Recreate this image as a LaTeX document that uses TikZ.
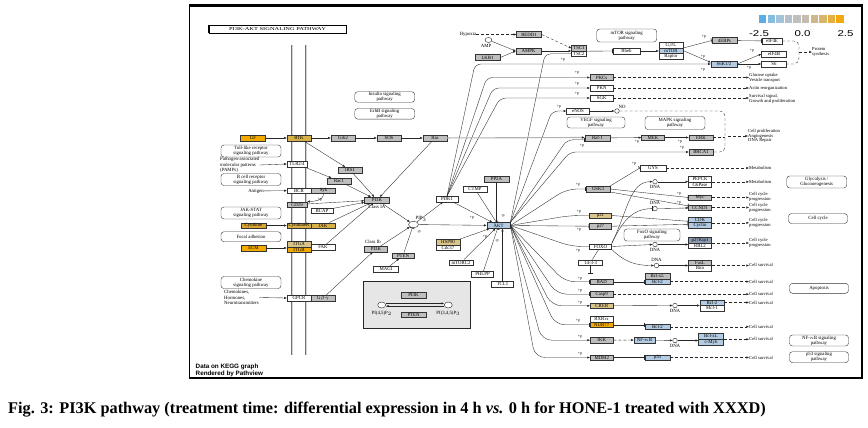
\documentclass[tikz,border=0pt]{standalone}
\usepackage{fontspec}
\setmainfont{Liberation Serif}
\setsansfont{Liberation Sans}
\usepackage{graphicx}
\usetikzlibrary{arrows.meta,shapes.geometric,calc}
\definecolor{kg}{HTML}{BEBEBE}
\definecolor{ko}{HTML}{F2A900}
\definecolor{kt}{HTML}{D8B048}
\definecolor{kc}{HTML}{D9A632}
\definecolor{kl}{HTML}{D9C48A}
\definecolor{kb}{HTML}{B3CBE3}
\definecolor{kd}{HTML}{8E9CB2}
\definecolor{kbox}{HTML}{E6E6E6}
\definecolor{cba}{HTML}{5DADE2}
\definecolor{cbb}{HTML}{85BCE0}
\definecolor{cbc}{HTML}{A3C3DA}
\definecolor{cbd}{HTML}{B5C0CA}
\definecolor{cbe}{HTML}{BFBFBF}
\definecolor{cbf}{HTML}{C4BDAE}
\definecolor{cbg}{HTML}{CDB88E}
\definecolor{cbh}{HTML}{D9B56A}
\definecolor{cbi}{HTML}{E6B040}
\definecolor{cbj}{HTML}{F2A90F}
\tikzset{
  g/.style={draw=black!80, line width=0.4pt, inner sep=0pt, minimum height=5.6pt, font=\fontsize{4.8}{5}\selectfont},
  pw/.style={draw=black!80, line width=0.4pt, rounded corners=3pt, inner sep=0.5pt, align=center, font=\fontsize{4.8}{5.2}\selectfont},
  lbl/.style={inner sep=0pt, align=left, font=\fontsize{4.8}{5.2}\selectfont},
  outc/.style={inner sep=0pt, anchor=west, align=left, font=\fontsize{4.6}{4.8}\selectfont},
  plbl/.style={inner sep=0pt, font=\fontsize{4}{4}\selectfont},
  cn/.style={line width=0.35pt, draw=black!85},
  ar/.style={cn, -{Latex[length=2.6pt,width=2.2pt]}},
  inh/.style={cn, -{Bar[width=4.5pt,line width=0.6pt]}},
  dar/.style={ar, dash pattern=on 3pt off 2pt},
  dl/.style={cn, dash pattern=on 3pt off 2pt},
  fanu/.style={rounded corners=6pt},
  fand/.style={rounded corners=10pt},
  cir/.style={draw=black!85, circle, line width=0.4pt, fill=white, inner sep=0pt, minimum size=4.6pt},
}
\begin{document}
\begin{tikzpicture}[x=1pt,y=-1pt]
\useasboundingbox (0,0) rectangle (868,428);
\fill[white] (0,0) rectangle (868,428);
% frame
\draw[line width=0.8pt] (189,5.5) -- (189,378);
\draw[line width=2.2pt] (188.6,5.5) -- (862,5.5) -- (862,378) -- (188.6,378);
% title
\node[draw, line width=0.5pt, minimum width=137pt, minimum height=8pt, inner sep=0pt] (title) at (277.5,29) {\scalebox{1.4}[1]{\fontsize{4.6}{5}\selectfont PI3K-AKT SIGNALING PATHWAY}};
\draw[line width=1.3pt] (title.north west) -- (title.south west);
\draw[line width=1.3pt] (title.north east) -- (title.south east);
% membrane
\foreach \mx in {292,306} {
  \draw[line width=2.2pt, black!55] (\mx,45) -- (\mx,355);
  \draw[line width=1.0pt, gray!35] (\mx,45) -- (\mx,355);
}
% legend
\foreach \c [count=\i] in {cba,cbb,cbc,cbd,cbe,cbf,cbg,cbh,cbi,cbj} {
  \fill[\c] ({759+(\i-1)*8.6},15) rectangle ++(7.4,8);
}
\node[font=\sffamily\fontsize{8.5}{9}\selectfont, inner sep=0pt] (lg1) at (759,34) {\scalebox{1.35}[1]{-2.5}};
\node[font=\sffamily\fontsize{8.5}{9}\selectfont, inner sep=0pt] (lg2) at (802.5,34) {\scalebox{1.35}[1]{0.0}};
\node[font=\sffamily\fontsize{8.5}{9}\selectfont, inner sep=0pt] (lg3) at (845.5,34) {\scalebox{1.35}[1]{2.5}};
% pathview note
\node[anchor=west, inner sep=0pt, align=left, font=\sffamily\bfseries\fontsize{6.3}{6.8}\selectfont] (pv) at (195.5,370.5) {Data on KEGG graph\\Rendered by Pathview};
% caption
\node[anchor=west, inner sep=0pt, font=\bfseries\fontsize{16.3}{18}\selectfont] (cap) at (8,410) {Fig. 3: PI3K pathway (treatment time: differential expression in 4 h \textit{vs.} 0 h for HONE-1 treated with XXXD)};

% ---------- left column ----------
\node[pw, minimum width=60pt, minimum height=10pt] (inspw) at (384.7,97) {Insulin signaling\\pathway};
\node[pw, minimum width=60pt, minimum height=10pt] (erbpw) at (384.7,113.8) {ErbB signaling\\pathway};
\node[g, fill=ko, minimum width=25pt] (gf) at (253,138) {GF};
\node[g, fill=kt, minimum width=24pt] (rtk) at (299,138) {RTK};
\node[g, fill=kg, minimum width=24pt] (grb2) at (343,138) {Grb2};
\node[g, fill=kg, minimum width=24pt] (sos) at (389,138) {SOS};
\node[g, fill=kg, minimum width=24pt] (ras) at (435,138) {Ras};
\node[pw, minimum width=60pt, minimum height=12pt] (tlrpw) at (251,151) {Toll-like receptor\\signaling pathway};
\node[lbl, anchor=west] (pamps) at (220,165) {Pathogen-associated\\molecular patterns\\(PAMPs)};
\node[g, fill=white, minimum width=20pt] (tlr) at (297,164) {TLR2/4};
\node[g, fill=kg, minimum width=24pt] (irs1) at (350,170) {IRS1};
\node[g, fill=kg, minimum width=24pt] (rac1) at (339,181) {Rac1};
\node[pw, minimum width=60pt, minimum height=12pt] (bcrpw) at (251,179.5) {B cell receptor\\signaling pathway};
\node[lbl] (antigen) at (256,191) {Antigen};
\node[g, fill=white, minimum width=24pt] (bcr) at (299,190.5) {BCR};
\node[g, fill=kg, minimum width=24pt] (syk) at (323.5,190.5) {Syk};
\node[g, fill=kg, minimum width=20pt] (cd19) at (297,204.5) {CD19};
\node[g, fill=white, minimum width=22pt] (bcap) at (322,210.5) {BCAP};
\node[g, fill=kg, minimum width=25pt] (pi3k) at (377,200) {PI3K};
\node[lbl] (classia) at (377,207) {Class IA};
\node[pw, minimum width=60pt, minimum height=12pt] (jakpw) at (251,213) {JAK-STAT\\signaling pathway};
\node[g, fill=kc, minimum width=25pt] (cytok) at (253.5,225.5) {Cytokine};
\node[g, fill=kt, minimum width=24pt] (cytr) at (299,225.5) {CytokineR};
\node[g, fill=kt, minimum width=24pt] (jak) at (323,225.5) {JAK};
\node[pw, minimum width=60pt, minimum height=10pt] (fapw) at (251,236.7) {Focal adhesion};
\node[g, fill=ko, minimum width=25pt] (ecm) at (253.5,248) {ECM};
\node[g, fill=kl, minimum width=24pt] (itga) at (299,244.2) {ITGA};
\node[g, fill=ko, minimum width=24pt] (itgb) at (299,249.8) {ITGB};
\node[g, fill=white, minimum width=24pt] (fak) at (323,247) {FAK};
\node[g, fill=kg, minimum width=23pt] (pi3kb) at (376,249) {PI3K};
\node[lbl, anchor=west] (classib) at (365,242) {Class Ib};
\node[g, fill=kg, minimum width=22pt] (pten) at (403,255.5) {PTEN};
\node[g, fill=white, minimum width=25pt] (magi) at (386,269) {MAGI};
\node[pw, minimum width=60pt, minimum height=12pt] (chpw) at (251,282.5) {Chemokine\\signaling pathway};
\node[lbl, anchor=west] (chem) at (224,297.5) {Chemokines,\\Hormones,\\Neurotransmitters};
\node[g, fill=white, minimum width=24pt] (gpcr) at (299,298) {GPCR};
\node[g, fill=kg, minimum width=24pt] (gbg) at (323,298) {G$\beta\gamma$};

% ---------- middle ----------
\node[draw=black!85, ellipse, line width=0.4pt, fill=white, inner sep=0pt, minimum width=10pt, minimum height=6.5pt] (pip3) at (413.5,224.5) {};
\node[lbl] (pip3l) at (421,219) {PIP$_3$};
\node[g, fill=white, minimum width=22pt] (pdk1) at (447,199) {PDK1};
\node[g, fill=white, minimum width=24pt] (ctmp) at (475,189) {CTMP};
\node[g, fill=kg, minimum width=25pt] (pp2a) at (496.5,179) {PP2A};
\node[g, fill=kb, minimum width=23pt, line width=0.8pt] (akt) at (498.5,225.5) {AKT};
\node[g, fill=kl, minimum width=24pt] (hsp90) at (448,242) {HSP90};
\node[g, fill=white, minimum width=24pt] (cdc37) at (448,247.6) {Cdc37};
\node[g, fill=white, minimum width=24pt] (mtorc2) at (461,262.5) {mTORC2};
\node[g, fill=white, minimum width=22pt] (phlpp) at (482.5,274) {PHLPP};
\node[g, fill=white, minimum width=22pt] (tcl1) at (502.5,284) {TCL1};
% inset
\node[draw=black!85, line width=1pt, fill=kbox, minimum width=107pt, minimum height=47pt, inner sep=0pt] (inset) at (416.5,304.5) {};
\node[g, fill=kg, minimum width=25pt] (pi3ki) at (413.5,295) {PI3K};
\node[g, fill=kg, minimum width=25pt] (pteni) at (413.5,314.5) {PTEN};
\node[cir, minimum width=8pt, minimum height=6pt, ellipse] (c1) at (381.7,305) {};
\node[cir, minimum width=8pt, minimum height=6pt, ellipse] (c2) at (448.3,305) {};
\node[lbl] (c1l) at (381.7,313.5) {PI(4,5)P$_2$};
\node[lbl] (c2l) at (448.3,313.5) {PI(3,4,5)P$_3$};
\draw[ar] ([yshift=1.6pt]c1.east) -- ([yshift=1.6pt]c2.west);
\draw[ar] ([yshift=-1.2pt]c2.west) -- ([yshift=-1.2pt]c1.east);

% ---------- top ----------
\node[lbl] (hypoxia) at (468,34.5) {Hypoxia};
\node[g, fill=kg, minimum width=25pt] (redd1) at (529,34.5) {REDD1};
\node[cir, minimum width=7pt, minimum height=5pt, ellipse] (amp) at (488.5,40) {};
\node[lbl] (ampl) at (486,46) {AMP};
\node[g, fill=kg, minimum width=25pt] (ampk) at (528.5,51) {AMPK};
\node[g, fill=kg, minimum width=25pt] (lkb1) at (487.5,57.5) {LKB1};
\node[g, fill=kg, minimum width=15pt] (tsc1) at (579,48.2) {TSC1};
\node[g, fill=white, minimum width=15pt] (tsc2) at (579,53.8) {TSC2};
\node[pw, minimum width=60pt, minimum height=13pt] (mtorpw) at (626.7,35.5) {mTOR signaling\\pathway};
\node[g, fill=white, minimum width=27pt] (rheb) at (626.5,51) {Rheb};
\node[g, fill=white, minimum width=24pt] (gbl) at (671,45) {G$\beta$L};
\node[g, fill=kb, minimum width=24pt] (mtor) at (671,50.6) {mTOR};
\node[g, fill=white, minimum width=24pt] (raptor) at (671,56.2) {Raptor};
\node[g, fill=kg, minimum width=25pt] (ebp) at (724.5,40.5) {4EBPs};
\node[g, fill=white, minimum width=20pt] (eif4e) at (772,41) {eIF4E};
\node[g, fill=white, minimum width=25pt] (eif4b) at (774,54) {eIF4B};
\node[g, fill=white, minimum width=25pt] (s6) at (774,64) {S6};
\node[g, fill=kb, minimum width=26pt] (s6k) at (724,64) {S6K1/2};
\node[outc] (protsyn) at (812,52) {Protein\\synthesis};
\node[g, fill=kg, minimum width=23pt] (pkcs) at (601.7,77.5) {PKCs};
\node[g, fill=white, minimum width=23pt] (pkn) at (601.7,88) {PKN};
\node[g, fill=white, minimum width=23pt] (sgk) at (601.7,98) {SGK};
\node[g, fill=white, minimum width=23pt] (enos) at (578,111) {eNOS};
\node[cir] (no) at (617,111) {};
\node[lbl] (nol) at (622,106.5) {NO};
\node[pw, minimum width=58pt, minimum height=11pt] (vegfpw) at (596,122.5) {VEGF signaling\\pathway};
\node[pw, minimum width=60pt, minimum height=13pt] (mapkpw) at (675,123) {MAPK signaling\\pathway};
\node[g, fill=kg, minimum width=25pt] (raf1) at (597.5,138) {Raf-1};
\node[g, fill=kg, minimum width=23pt] (mek) at (653,137.5) {MEK};
\node[g, fill=kg, minimum width=24pt] (erk) at (701,137.5) {ERK};
\node[g, fill=kg, minimum width=24pt] (brca1) at (701,152) {BRCA1};
\node[g, fill=white, minimum width=26pt] (gys) at (653,168) {GYS};
\node[g, fill=kg, minimum width=24pt] (gsk3) at (598,189) {GSK3};
\node[g, fill=white, minimum width=23pt] (pepck) at (700,179.2) {PEPCK};
\node[g, fill=white, minimum width=23pt] (g6pase) at (700,184.8) {G6Pase};
\node[g, fill=kg, minimum width=23pt] (myc) at (700,197.5) {Myc};
\node[g, fill=kg, minimum width=23pt] (ccnd1) at (700,207.5) {CCND1};
\node[g, fill=kb, minimum width=23pt] (cdk) at (700,219.8) {CDK};
\node[g, fill=kb, minimum width=23pt] (cyclin) at (700,225.4) {Cyclin};
\node[g, fill=kl, minimum width=22pt] (p21) at (600.5,215.5) {p21};
\node[g, fill=kg, minimum width=22pt] (p27) at (600.5,226.2) {p27};
\node[g, fill=white, minimum width=22pt] (foxo) at (600.5,246.5) {FOXO};
\node[pw, minimum width=56pt, minimum height=12pt] (foxopw) at (652,235) {FoxO signaling\\pathway};
\node[g, fill=kd, minimum width=23pt] (p27k) at (700,240) {p27Kip1};
\node[g, fill=white, minimum width=23pt] (rbl2) at (700,245.6) {RBL2};
\node[g, fill=kg, minimum width=23pt] (fasl) at (700,262.5) {FasL};
\node[g, fill=white, minimum width=23pt] (bim) at (700,268.1) {Bim};
\node[g, fill=white, minimum width=24pt] (t1433) at (590.5,262.5) {14-3-3};
\node[g, fill=kg, minimum width=23pt] (bad) at (601.7,281.8) {BAD};
\node[g, fill=kg, minimum width=23pt] (casp9) at (601.7,294.2) {Casp9};
\node[g, fill=kl, minimum width=23pt] (creb) at (601.7,305.8) {CREB};
\node[g, fill=white, minimum width=23pt] (rxra) at (601.7,319.2) {RXR$\alpha$};
\node[g, fill=ko, minimum width=23pt] (nur77) at (601.7,324.8) {NUR77};
\node[g, fill=kg, minimum width=23pt] (ikk) at (601.7,340.2) {IKK};
\node[g, fill=kg, minimum width=23pt] (mdm2) at (601.7,357.5) {MDM2};
\node[g, fill=kg, minimum width=25pt] (bclxla) at (657.5,276) {Bcl-xL};
\node[g, fill=kb, minimum width=25pt] (bcl2a) at (657.5,281.6) {Bcl-2};
\node[g, fill=kb, minimum width=24pt] (bcl2b) at (712,302.5) {Bcl-2};
\node[g, fill=white, minimum width=24pt] (mcl1) at (712,308.1) {Mcl-1};
\node[g, fill=kb, minimum width=25pt] (bcl2c) at (657.5,326.7) {Bcl-2};
\node[g, fill=kb, minimum width=21pt] (nfkb) at (644.5,340) {NF-$\kappa$B};
\node[g, fill=kb, minimum width=25pt] (bclxlb) at (711,336.3) {Bcl-xL};
\node[g, fill=kb, minimum width=25pt] (cmyb) at (711,341.9) {c-Myb};
\node[g, fill=kb, minimum width=25pt] (p53) at (657.5,357.5) {p53};
% DNA
\node[cir] (dna1) at (655,181.7) {};
\node[lbl] (dna1l) at (655,187.3) {DNA};
\node[cir] (dna2) at (655,208.6) {};
\node[lbl] (dna2l) at (655,203.3) {DNA};
\node[cir] (dna3) at (655,244.5) {};
\node[lbl] (dna3l) at (655,250.2) {DNA};
\node[cir] (dna4) at (656.5,265.5) {};
\node[lbl] (dna4l) at (656.5,260.3) {DNA};
\node[cir] (dna5) at (675,305.5) {};
\node[lbl] (dna5l) at (675,311.2) {DNA};
\node[cir] (dna6) at (675,340.5) {};
\node[lbl] (dna6l) at (675,346.4) {DNA};
% right pathway boxes
\node[pw, minimum width=60pt, minimum height=12pt] (glycpw) at (816.7,182) {Glycolysis /\\Gluconeogenesis};
\node[pw, minimum width=59pt, minimum height=10pt] (ccpw) at (818,218.5) {Cell cycle};
\node[pw, minimum width=59pt, minimum height=10pt] (apopw) at (819,288.3) {Apoptosis};
\node[pw, minimum width=59pt, minimum height=11pt] (nfkbpw) at (819,340.5) {NF-$\kappa$B signaling\\pathway};
\node[pw, minimum width=59pt, minimum height=11pt] (p53pw) at (819,357.2) {p53 signaling\\pathway};
% outcomes
\node[outc] (glu) at (749,77.5) {Glucose uptake\\Vesicle transport};
\node[outc] (actin) at (749,88) {Actin reorganization};
\node[outc] (surv0) at (749,98.5) {Survival signal,\\Growth and proliferation};
\node[outc] (prolif) at (748,136) {Cell proliferation\\Angiogenesis\\DNA Repair};
\node[outc] (met1) at (749,168) {Metabolism};
\node[outc] (met2) at (749,182) {Metabolism};
\node[outc] (ccp1) at (749,197) {Cell cycle\\progression};
\node[outc] (ccp2) at (749,207.5) {Cell cycle\\progression};
\node[outc] (ccp3) at (749,222.6) {Cell cycle\\progression};
\node[outc] (ccp4) at (749,242.8) {Cell cycle\\progression};
\node[outc] (surv1) at (749,265.3) {Cell survival};
\node[outc] (surv2) at (749,281.6) {Cell survival};
\node[outc] (surv3) at (749,294.2) {Cell survival};
\node[outc] (surv4) at (749,302.5) {Cell survival};
\node[outc] (surv5) at (749,326.7) {Cell survival};
\node[outc] (surv6) at (749,339.1) {Cell survival};
\node[outc] (surv7) at (749,357.5) {Cell survival};

% ---------- connectors: left ----------
\draw[ar] (gf) -- (rtk);
\draw[ar] (rtk) -- (grb2);
\draw[ar] (grb2) -- (sos);
\draw[ar] (sos) -- (ras);
\draw[ar] (rtk) -- (irs1);
\draw[ar] (irs1) -- (pi3k);
\draw[ar] (ras) -- (pi3k);
\draw[ar] (pamps.east) -- (tlr.west);
\draw[ar] (tlr) -- (rac1);
\draw[ar] (rac1) -- (pi3k);
\draw[ar] (antigen) -- (bcr);
\draw[ar] (syk.south) to[out=-90,in=0] (cd19.north east);
\node[plbl] (pk1) at (320,199.5) {+p};
\draw[ar] (cd19) -- (pi3k);
\draw[ar] (bcap) -- (pi3k);
\draw[ar] (jak) -- (pi3k);
\draw[ar] (fak) -- (pi3k);
\draw[ar] (cytok) -- (cytr);
\draw[ar] (ecm) -- (ecm -| itga.west);
\draw[ar] (chem.east) -- (gpcr.west);
\draw[ar] (gbg) -- (pi3kb);
\draw[ar] (pi3k) -- (pip3);
\draw[ar] (pi3kb) -- (pip3);
\draw[inh] (pten) -- (pip3);
\node[plbl] (pk2) at (419,232) {-p};
\draw[ar] (magi) -- (pten);
\draw[ar] (pip3) -- (pdk1);
\draw[ar] (pip3) -- (akt);
\draw[ar] (pdk1) -- (akt);
\node[plbl] (pk3) at (472,218) {+p};
\draw[inh] (ctmp) -- (akt);
\draw[inh] (pp2a) -- (pp2a |- akt.north);
\node[plbl] (pk4) at (503,215.5) {-p};
\draw[ar] (hsp90.north east) -- (akt);
\draw[ar] (mtorc2) -- (akt);
\node[plbl] (pk5) at (485,237) {+p};
\draw[inh] (phlpp) -- (akt);
\node[plbl] (pk6) at (497,241) {-p};
\draw[ar] (tcl1) -- (tcl1 |- akt.south);

% ---------- connectors: top ----------
\draw[dar] (hypoxia) -- (redd1);
\draw[dar] (redd1.east) -- (tsc1.west);
\draw[ar] (amp) -- (ampk.west);
\draw[ar] (lkb1.east) -- (ampk.west);
\draw[ar] (ampk) -- (ampk -| tsc1.west);
\draw[inh] (tsc1.south east) -- (rheb.west);
\draw[ar] (rheb) -- (rheb -| mtor.west);
\draw[inh] (gbl.south east) -- (ebp.west);
\node[plbl] (pk7) at (704,37) {+p};
\draw[ar] (mtor.east) -- ([yshift=1.5pt]s6k.west);
\node[plbl] (pk8) at (703,56.5) {+p};
\draw[inh] (ebp) -- (eif4e);
\draw[ar] (s6k.east) -- (eif4b.west);
\node[plbl] (pk9) at (752,51) {+p};
\draw[ar] (s6k) -- (s6);
\node[plbl] (pk10) at (749,67.5) {+p};
\coordinate (psb) at (799,52);
\draw[dl] (eif4e.east) -- (794,41) to[out=0,in=90] (799,46) -- (799,58) to[out=-90,in=0] (794,64) -- (s6.east);
\draw[dar] (psb) -- (protsyn.west);
% PDK1 upward
\draw[ar, fanu] (pdk1.north) -- (475,64) -- (s6k.west);
\node[plbl] (pk11) at (703,69.5) {+p};
\draw[ar, fanu] (pdk1.north) -- (486.7,77.5) -- (pkcs.west);
\node[plbl] (pk12) at (577,73) {+p};
\draw[ar, fanu] (pdk1.north) -- (493,88) -- (pkn.west);
\node[plbl] (pk13) at (577,83.5) {+p};
\draw[ar, fanu] (pdk1.north) -- (500,98) -- (sgk.west);
\node[plbl] (pk14) at (577,93.5) {+p};
\draw[dar] (pkcs) -- (pkcs -| glu.west);
\draw[dar] (pkn) -- (pkn -| actin.west);
\draw[dar] (sgk) -- (sgk -| surv0.west);

% ---------- connectors: AKT fan ----------
\draw[inh, fanu] (akt.north east) -- (545,53.8) -- (tsc2.west);
\node[plbl] (pk15) at (563,60) {+p};
\draw[ar, fanu] (akt.north east) -- (552,111) -- (enos.west);
\node[plbl] (pk16) at (559,107) {+p};
\draw[inh, fanu] (akt.north east) -- (567,139.8) -- ([yshift=-1.8pt]raf1.west);
\node[plbl] (pk17) at (582,146) {+p};
\draw[ar, fanu] (akt.north east) -- (570,152) -- (brca1.west);
\node[plbl] (pk18) at (682,148) {+p};
\draw[inh, fand] (akt.east) -- (566.7,189) -- (gsk3.west);
\node[plbl] (pk19) at (578,185) {+p};
\draw[inh, fand] (akt.east) -- (570,215.5) -- (p21.west);
\node[plbl] (pk20) at (579,212) {+p};
\draw[inh] (akt.east) -- (p27.west);
\node[plbl] (pk21) at (579,230) {+p};
\draw[inh, fand] (akt.east) -- (571.7,246.5) -- (foxo.west);
\node[plbl] (pk22) at (578,250.5) {+p};
\draw[inh, fand] (akt.east) -- (565,281.8) -- (bad.west);
\node[plbl] (pk23) at (580,278.5) {+p};
\draw[inh, fand] (akt.east) -- (556.7,294.2) -- (casp9.west);
\node[plbl] (pk24) at (580,291) {+p};
\draw[ar, fand] (akt.east) -- (551.7,305.8) -- (creb.west);
\node[plbl] (pk25) at (580,302.5) {+p};
\draw[inh, fand] (akt.east) -- (555,324.8) -- (nur77.west);
\node[plbl] (pk26) at (578,321) {+p};
\draw[ar, fand] (akt.east) -- (541.7,340.2) -- (ikk.west);
\node[plbl] (pk27) at (580,337) {+p};
\draw[ar, fand] (akt.east) -- (535,357.5) -- (mdm2.west);
\node[plbl] (pk28) at (580,354) {+p};

% ---------- connectors: right ----------
\draw[draw=gray!60, line width=1.1pt, -{Latex[length=3pt,width=2.6pt,color=black!85]}] (ras) -- ([yshift=0.5pt]raf1.west);
\draw[ar] (raf1) -- (mek);
\node[plbl] (pk29) at (637,141.5) {+p};
\draw[ar] (mek) -- (erk);
\node[plbl] (pk30) at (680,141.5) {+p};
\draw[ar] (enos) -- (no);
\coordinate (prb) at (728,136);
\draw[dl] (no.east) -- (720,111) to[out=0,in=90] (725,116) -- (725,147) to[out=-90,in=0] (720,152) -- (brca1.east);
\draw[dl] (erk.east) -- (725,137.5);
\draw[dar] (prb) -- (prolif.west);
\draw[inh] (gsk3.north east) -- (gys.west);
\node[plbl] (pk31) at (634,164) {+p};
\draw[inh] (gsk3.east) -- (myc.west);
\node[plbl] (pk32) at (679,193.5) {+p};
\draw[inh] (gsk3.south east) -- ([yshift=1.6pt]ccnd1.west);
\node[plbl] (pk33) at (679,203) {+p};
\draw[inh] (p21.east) -- ([yshift=1.5pt]cdk.south west);
\draw[inh] (p27.east) -- ([yshift=-1.5pt]cdk.south west);
\draw[ar] (foxo.north east) .. controls (628,210) and (630,181.7) .. (dna1.west);
\draw[inh] (foxo.north east) .. controls (622,222) and (632,208.6) .. (dna2.west);
\draw[ar] (foxo.east) -- (dna3.west);
\draw[ar] (foxo.south east) .. controls (625,262) and (635,265.5) .. (dna4.west);
\draw[ar] (dna1) -- (dna1 -| pepck.west);
\draw[ar] (dna2) -- ([yshift=-0.5pt]ccnd1.west);
\draw[ar] (dna3) -- (dna3 -| p27k.west);
\draw[ar] (dna4) -- (dna4 -| fasl.west);
\draw[cn] (foxo) -- (t1433);
\coordinate (badtop) at (590.5,273.5);
\draw[inh] (t1433) -- (badtop);
\draw[inh] (bad) -- (bad -| bcl2a.west);
\draw[ar] (creb) -- (dna5);
\draw[ar] (dna5) -- (dna5 -| bcl2b.west);
\draw[inh] (nur77) -- (nur77 -| bcl2c.west);
\draw[dar] (ikk) -- (nfkb);
\draw[ar] (nfkb) -- (dna6);
\draw[ar] (dna6) -- (dna6 -| bclxlb.west);
\draw[inh] (mdm2) -- (p53);
% dashed outcome arrows
\draw[dar] (gys) -- (gys -| met1.west);
\draw[dar] (g6pase.north east) -- (g6pase.north east -| met2.west);
\draw[dar] (myc) -- (myc -| ccp1.west);
\draw[dar] (ccnd1) -- (ccnd1 -| ccp2.west);
\draw[dar] (cdk.south east) -- (cdk.south east -| ccp3.west);
\draw[dar] (p27k.south east) -- (p27k.south east -| ccp4.west);
\draw[dar] (fasl.south east) -- (fasl.south east -| surv1.west);
\draw[dar] (bcl2a) -- (bcl2a -| surv2.west);
\draw[dar] (casp9) -- (casp9 -| surv3.west);
\draw[dar] (bcl2b) -- (bcl2b -| surv4.west);
\draw[dar] (bcl2c) -- (bcl2c -| surv5.west);
\draw[dar] (bclxlb.south east) -- (bclxlb.south east -| surv6.west);
\draw[dar] (p53) -- (p53 -| surv7.west);
\end{tikzpicture}
\end{document}
